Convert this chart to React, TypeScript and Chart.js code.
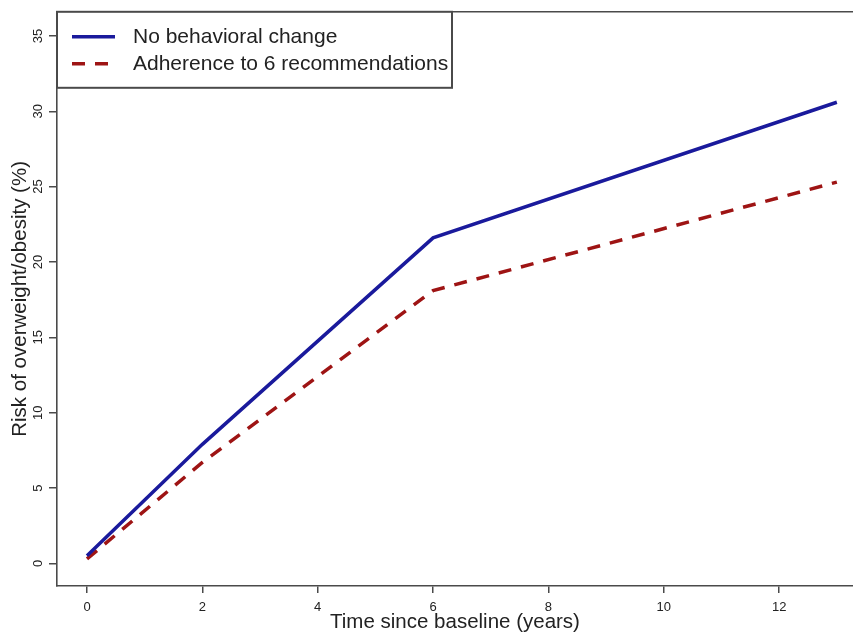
import React, { useEffect, useRef } from "react";
import { Chart, registerables } from "chart.js";

Chart.register(...registerables);

const years = [0, 2, 6, 13];
const noChange = [0.5, 7.9, 21.6, 30.6];
const adherence = [0.3, 6.7, 18.1, 25.3];
const xTicks = [0, 2, 4, 6, 8, 10, 12];
const yTicks = [0, 5, 10, 15, 20, 25, 30, 35];
const seriesLabels = ["No behavioral change", "Adherence to 6 recommendations"];
const xTitle = "Time since baseline (years)";
const yTitle = "Risk of overweight/obesity (%)";

const BLUE = "#1a1a9c";
const RED = "#9e1414";
const FRAME = "#4a4a4a";
const TEXT = "#222222";
const FONT = "'Liberation Sans', Arial, Helvetica, sans-serif";

const framePlugin = {
  id: "frameLegend",
  afterDraw(chart: any) {
    const { ctx, chartArea } = chart;
    ctx.save();
    // top border of plot frame
    ctx.strokeStyle = FRAME;
    ctx.lineWidth = 1.6;
    ctx.beginPath();
    ctx.moveTo(chartArea.left, chartArea.top);
    ctx.lineTo(chartArea.right, chartArea.top);
    ctx.stroke();
    // y tick labels, rotated and centred on their ticks
    const yScale = chart.scales.y;
    ctx.fillStyle = TEXT;
    ctx.font = `13px ${FONT}`;
    ctx.textAlign = "center";
    ctx.textBaseline = "middle";
    yTicks.forEach((v) => {
      const py = yScale.getPixelForValue(v);
      ctx.save();
      ctx.translate(38, py);
      ctx.rotate(-Math.PI / 2);
      ctx.fillText(String(v), 0, 0);
      ctx.restore();
    });
    // legend box
    const lx = chartArea.left, ly = chartArea.top, lw = 395, lh = 76;
    ctx.fillStyle = "#ffffff";
    ctx.fillRect(lx, ly, lw, lh);
    ctx.strokeStyle = FRAME;
    ctx.lineWidth = 2;
    ctx.strokeRect(lx, ly, lw, lh);
    const rows = [
      { y: ly + 25, color: BLUE, dash: [] as number[] },
      { y: ly + 52, color: RED, dash: [13, 10] },
    ];
    rows.forEach((r, i) => {
      ctx.strokeStyle = r.color;
      ctx.lineWidth = 3.5;
      ctx.setLineDash(r.dash);
      ctx.beginPath();
      ctx.moveTo(lx + 15, r.y);
      ctx.lineTo(lx + 58, r.y);
      ctx.stroke();
      ctx.setLineDash([]);
      ctx.fillStyle = TEXT;
      ctx.font = `21px ${FONT}`;
      ctx.textBaseline = "middle";
      ctx.textAlign = "left";
      ctx.fillText(seriesLabels[i], lx + 76, r.y);
    });
    ctx.restore();
  },
};

export default function App() {
  const ref = useRef<HTMLCanvasElement>(null);
  useEffect(() => {
    document.body.style.margin = "0";
    const chart = new Chart(ref.current!, {
      type: "line",
      data: {
        datasets: [
          {
            label: seriesLabels[0],
            data: years.map((x, i) => ({ x, y: noChange[i] })),
            borderColor: BLUE,
            borderWidth: 3.5,
            pointRadius: 0,
            tension: 0,
          },
          {
            label: seriesLabels[1],
            data: years.map((x, i) => ({ x, y: adherence[i] })),
            borderColor: RED,
            borderWidth: 3.5,
            borderDash: [13, 10],
            pointRadius: 0,
            tension: 0,
          },
        ],
      },
      options: {
        responsive: false,
        animation: false,
        layout: { padding: { top: 10, right: 0, left: 0, bottom: 0 } },
        plugins: { legend: { display: false }, tooltip: { enabled: false } },
        scales: {
          x: {
            type: "linear",
            min: -0.52,
            max: 13.28,
            afterBuildTicks: (s: any) => {
              s.ticks = xTicks.map((v) => ({ value: v }));
            },
            afterFit: (s: any) => {
              s.height = 49;
            },
            grid: { drawOnChartArea: false, drawTicks: true, tickLength: 7, color: FRAME, lineWidth: 1.5 },
            border: { display: true, color: FRAME, width: 1.6 },
            ticks: { color: TEXT, font: { family: FONT, size: 13 }, padding: 7, maxRotation: 0 },
            title: { display: true, text: xTitle, color: TEXT, font: { family: FONT, size: 20.5 }, padding: { top: 0, bottom: 0 } },
          },
          y: {
            type: "linear",
            min: -1.5,
            max: 36.6,
            afterBuildTicks: (s: any) => {
              s.ticks = yTicks.map((v) => ({ value: v }));
            },
            afterFit: (s: any) => {
              s.width = 57;
            },
            grid: { drawOnChartArea: false, drawTicks: true, tickLength: 8, color: FRAME, lineWidth: 1.5 },
            border: { display: true, color: FRAME, width: 1.6 },
            ticks: { color: "rgba(0,0,0,0)", font: { family: FONT, size: 13 }, padding: 4 },
            title: { display: true, text: yTitle, color: TEXT, font: { family: FONT, size: 20.5 }, padding: { top: 8, bottom: 0 } },
          },
        },
      },
      plugins: [framePlugin],
    } as any);
    return () => chart.destroy();
  }, []);
  return (
    <div style={{ position: "absolute", left: 0, top: 0, width: 853, height: 635 }}>
      <canvas ref={ref} width={853} height={635} />
    </div>
  );
}
